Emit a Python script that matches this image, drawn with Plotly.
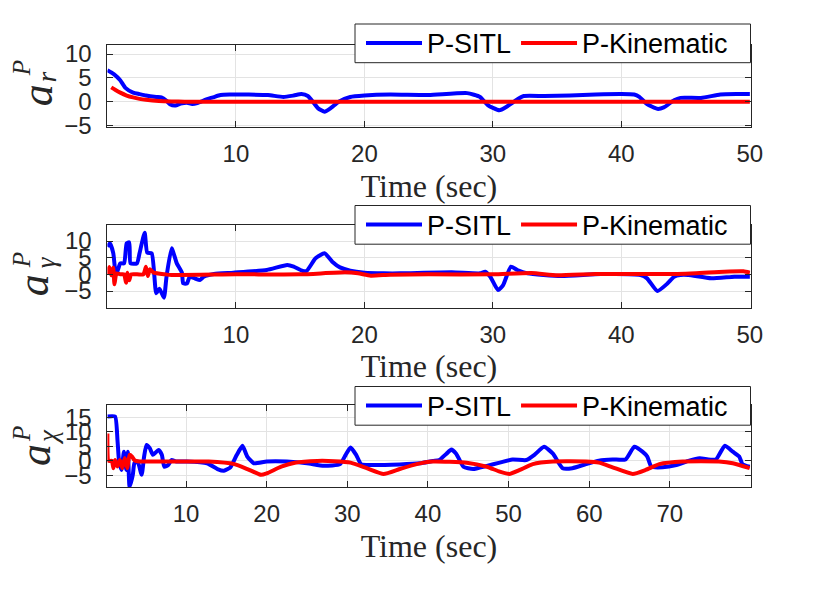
import plotly.graph_objects as go

# ---------------------------------------------------------------------------
# Data
# ---------------------------------------------------------------------------

# a_r^P
t_r_sitl = [0, 0.5, 1.0, 1.4, 2.0, 2.5, 3.0, 3.8, 4.2, 4.6, 4.9, 5.3, 5.7, 6.2, 6.6, 7.0, 7.7, 8.2,
            8.8, 9.5, 11, 12.5, 13.7, 14.5, 15.1, 15.6, 15.9, 16.4, 16.9, 17.4, 18.0, 18.9, 20, 22,
            25, 28, 29.0, 29.6, 30.5, 31.1, 31.8, 32.4, 34, 36, 38, 40, 41.0, 41.4, 42.0, 42.8, 43.3,
            44.1, 44.6, 46.2, 47.7, 49, 50]
ar_sitl = [6.6, 5.8, 4.5, 2.9, 1.9, 1.6, 1.3, 1.0, 0.9, 0.2, -0.6, -0.8, -0.4, -0.2, -0.5, -0.3, 0.5,
           0.9, 1.4, 1.5, 1.5, 1.4, 1.0, 1.3, 1.6, 1.2, 0.3, -1.4, -2.1, -1.3, 0.0, 1.0, 1.3, 1.5, 1.4,
           1.8, 1.0, -0.7, -1.8, -1.0, 0.3, 1.2, 1.2, 1.3, 1.5, 1.6, 1.5, 1.0, -0.5, -1.5, -1.2, 0.3,
           0.8, 0.8, 1.5, 1.6, 1.6]
t_r_kin = [0.3, 0.6, 1.0, 1.5, 2.0, 2.5, 3.0, 4.0, 5.0, 6, 10, 20, 30, 40, 50]
ar_kin = [3.0, 2.5, 1.9, 1.3, 0.9, 0.6, 0.4, 0.15, 0.05, 0, 0, 0, 0, 0, 0]

# a_gamma^P
t_g_sitl = [0, 0.2, 0.46, 0.6, 0.7, 1.0, 1.3, 1.5, 1.7, 1.8, 2.3, 2.5, 2.9, 3.1, 3.45, 3.8, 4.05,
            4.4, 4.6, 5.0, 5.4, 5.8, 5.9, 6.2, 6.4, 6.8, 7.2, 7.5, 8.3, 9.8, 12.4, 14.0, 14.5, 15.2,
            15.5, 16.2, 16.9, 17.5, 18.1, 18.9, 20, 21.5, 22.8, 26.8, 29.0, 29.4, 29.8, 30.4, 30.8,
            31.4, 31.9, 32.7, 35.3, 38.4, 41.5, 42.0, 42.8, 43.6, 44.1, 44.6, 45.2, 47.0, 48.8, 50]
ag_sitl = [8.3, 9.3, 6.3, 1.3, 0.0, 3.3, 3.3, 9.3, 9.6, 3.3, 3.3, 6.3, 12.5, 6.5, 6.3, -5.7, -4.3,
           -7.0, -0.7, 7.8, 3.3, 0.5, -2.7, -2.7, -0.7, -1.2, -1.7, -0.7, 0.1, 0.5, 1.3, 2.8, 2.3,
           1.0, 1.0, 4.8, 6.3, 3.8, 2.1, 1.1, 0.5, 0.3, 0.3, 0.6, 0.3, 0.8, -0.7, -4.7, -3.2, 2.3,
           1.3, 0.3, -0.5, 0.1, -0.2, -1.2, -5.0, -2.7, -0.7, -0.2, -0.2, -1.2, -0.7, -0.7]
t_g_kin = [0, 0.15, 0.3, 0.45, 0.55, 0.7, 1.0, 1.3, 1.45, 1.55, 1.7, 1.85, 2.8, 3.0, 3.15, 3.3, 3.6,
           4.5, 5.0, 10, 15, 18.5, 19.5, 20.5, 22, 25, 30, 33, 35, 38, 42, 45, 48, 49.5, 50]
ag_kin = [0, 2.2, -0.3, 2.0, -3.0, 0.3, 0, 0, -2.5, 0.5, -1.8, 0, 0, 2.3, -0.5, 1.5, 0.5, 0, -0.2,
          0, 0, 0.6, 0.3, -0.4, -0.1, 0, 0, 0.4, -0.3, 0.1, 0.1, 0.2, 0.8, 0.9, 0.5]

# a_chi^P
t_c_sitl = [0.25, 1.2, 1.5, 1.7, 2.0, 2.3, 2.6, 2.8, 3.0, 3.4, 3.6, 4.0, 4.5, 4.8, 5.1, 5.5, 5.9,
            6.6, 7.0, 7.3, 7.8, 8.2, 8.8, 10.1, 12.6, 13.9, 14.7, 15.5, 16.3, 17.0, 17.6, 18.4,
            20.0, 22.5, 25.0, 27.1, 29.1, 29.8, 30.4, 31.1, 31.7, 32.8, 36.5, 39.0, 40.6, 41.4,
            42.3, 42.9, 43.5, 44.4, 45.6, 47.3, 48.9, 50.5, 52.2, 53.2, 54.4, 55.5, 56.7, 57.9,
            59.6, 61.2, 62.9, 64.5, 65.6, 66.6, 67.2, 67.7, 69.1, 70.8, 72.4, 73.7, 75.7, 76.8,
            77.8, 78.6, 79.0, 79.9]
ac_sitl = [15.3, 15.3, 7.2, -0.2, -3.1, 3.2, -3.1, 3.2, -8.9, -4.8, -0.8, -0.2, -4.8, 1.5, 5.5,
           4.4, 2.1, 3.8, 2.1, -2.0, -1.4, 0.3, -0.2, -0.2, -0.8, -2.8, -3.4, -2.2, 2.1, 5.2, 1.5,
           -0.8, -0.2, -0.2, -0.8, -1.7, -1.1, 2.1, 4.6, 2.1, -1.1, -1.4, -1.2, -0.8, 0.0, 0.3,
           2.5, 3.9, 2.5, -2.0, -2.8, -1.7, -0.6, 0.5, 0.3, 2.1, 4.9, 2.5, -2.5, -2.5, -1.1, 0.1,
           0.5, 0.5, 4.9, 3.2, 1.5, -2.0, -2.2, -1.4, 0.1, 0.9, 0.5, 5.2, 3.2, 1.5, -1.1, -2.0]
t_c_kin = [0.25, 0.4, 0.8, 1.0, 1.2, 1.5, 1.8, 2.1, 2.4, 2.7, 3.0, 3.3, 3.6, 4.0, 5.0, 7.8, 12.8,
           16.0, 17.6, 19.3, 20.0, 21.8, 23.5, 26.3, 28.4, 30.4, 32.4, 34.5, 36.5, 38.6, 40.6,
           44.8, 47.3, 48.9, 50.1, 51.4, 53.0, 55.5, 59.6, 61.2, 62.9, 65.4, 67.0, 68.7, 71.6,
           76.1, 77.8, 79.9]
ac_kin = [9.5, 0.0, 0.0, -2.5, 0.3, -1.9, 0.3, -2.5, 1.0, -2.5, 2.1, 1.5, 0.3, -0.1, -0.2, -0.2,
          -0.2, -1.1, -2.8, -4.8, -4.3, -2.0, -0.6, 0.0, -0.1, -0.6, -2.5, -4.5, -2.8, -1.1, -0.2,
          -0.6, -2.0, -3.7, -4.5, -3.1, -1.1, -0.2, -0.2, -0.6, -2.2, -4.5, -3.1, -1.1, -0.2,
          -0.2, -0.8, -2.5]

x_ticks_short = [10, 20, 30, 40, 50]
x_ticks_long = [10, 20, 30, 40, 50, 60, 70]
y_ticks_r = [-5, 0, 5, 10]
y_ticks_g = [-5, 0, 5, 10]
y_ticks_c = [-5, 0, 5, 10, 15]

SERIES_NAMES = ["P-SITL", "P-Kinematic"]
Y_SUBSCRIPTS = ["r", "γ", "χ"]

# ---------------------------------------------------------------------------
# Figure
# ---------------------------------------------------------------------------

# the page body has an 8px margin; keep the figure small enough that the page
# never scrolls, and place everything in window pixels
BODY = 8
W, H = 810, 576
AX_COLOR = "#262626"
GRID_COLOR = "#e3e3e3"
SANS = "Liberation Sans, Arial, sans-serif"
SERIF = "Liberation Serif, Times New Roman, serif"
TICK_FONT = dict(family=SANS, size=24, color=AX_COLOR)

# window-pixel geometry of the three panels
PLOT_L, PLOT_R = 107.4, 750.5
PANELS_Y = [(45, 127.3), (225, 307.7), (405, 487)]
LEGEND_BOX_L = 355
LEGEND_TOP = [24, 205.5, 386.5]
LEGEND_H = 38.7
# y-label pieces: (x, dy from panel centre) for "a", "P" and the subscript
YLABEL_POS = [
    [(37, 9), (21, -18), (47, -9)],
    [(33, 19), (21, -6), (46, -4)],
    [(35, 9), (21, -12), (48, -9)],
]


def px_x(px):
    return (px - BODY) / W


def px_y(py):
    return 1 - (py - BODY) / H


panels = [
    (t_r_sitl, ar_sitl, t_r_kin, ar_kin, [0, 50.05], x_ticks_short, [-5.37, 11.9], y_ticks_r),
    (t_g_sitl, ag_sitl, t_g_kin, ag_kin, [0, 50.05], x_ticks_short, [-10, 14.8], y_ticks_g),
    (t_c_sitl, ac_sitl, t_c_kin, ac_kin, [0.25, 80], x_ticks_long, [-9, 19.3], y_ticks_c),
]

fig = go.Figure()
annotations = []
shapes = []

for i, (ts, vs, tk, vk, xr, xt, yr, yt) in enumerate(panels):
    n = "" if i == 0 else str(i + 1)
    legend_id = "legend" + n
    fig.add_trace(go.Scatter(
        x=ts, y=vs, mode="lines", name=SERIES_NAMES[0],
        line=dict(color="#0000ff", width=4, shape="spline", smoothing=0.5),
        xaxis="x" + n, yaxis="y" + n, legend=legend_id,
    ))
    fig.add_trace(go.Scatter(
        x=tk, y=vk, mode="lines", name=SERIES_NAMES[1],
        line=dict(color="#ff0000", width=4, shape="spline", smoothing=0.5),
        xaxis="x" + n, yaxis="y" + n, legend=legend_id,
    ))

    top, bottom = PANELS_Y[i]
    common = dict(
        showline=True, linecolor=AX_COLOR, linewidth=1, mirror="ticks",
        ticks="inside", ticklen=6, tickcolor=AX_COLOR,
        showgrid=True, gridcolor=GRID_COLOR, gridwidth=1, zeroline=False,
        tickfont=TICK_FONT, automargin=False,
    )
    leg_top = LEGEND_TOP[i]
    fig.update_layout({
        "xaxis" + n: dict(
            domain=[px_x(PLOT_L), px_x(PLOT_R)], anchor="y" + n, range=xr,
            tickvals=xt, ticklabelstandoff=5,
            title=dict(text="Time (sec)", standoff=8,
                       font=dict(family=SERIF, size=32, color=AX_COLOR)),
            **common,
        ),
        "yaxis" + n: dict(
            domain=[px_y(bottom), px_y(top)], anchor="x" + n, range=yr,
            tickvals=yt, ticklabelstandoff=10, **common,
        ),
        # legend entries sit on a white box drawn as a shape below
        legend_id: dict(
            x=px_x(733), xanchor="right", y=px_y(leg_top + LEGEND_H / 2), yanchor="middle",
            orientation="h", bgcolor="rgba(0,0,0,0)", borderwidth=0,
            font=dict(family=SANS, size=27, color="black"),
            itemwidth=56,
        ),
    })
    shapes.append(dict(
        type="rect", xref="paper", yref="paper", layer="above",
        x0=px_x(LEGEND_BOX_L), x1=px_x(PLOT_R), y0=px_y(leg_top + LEGEND_H), y1=px_y(leg_top),
        fillcolor="white", line=dict(color=AX_COLOR, width=1),
    ))

    # y label: a^P_sub, rotated
    yc = (top + bottom) / 2
    (ax, ady), (px_, pdy), (sx, sdy) = YLABEL_POS[i]
    annotations += [
        dict(text="<i>a</i>", x=px_x(ax), y=px_y(yc + ady), textangle=-90,
             font=dict(family=SERIF, size=44, color=AX_COLOR)),
        dict(text="<i>P</i>", x=px_x(px_), y=px_y(yc + pdy), textangle=-90,
             font=dict(family=SERIF, size=25, color=AX_COLOR)),
        dict(text="<i>" + Y_SUBSCRIPTS[i] + "</i>", x=px_x(sx), y=px_y(yc + sdy), textangle=-90,
             font=dict(family=SERIF, size=27, color=AX_COLOR)),
    ]

for a in annotations:
    a.update(xref="paper", yref="paper", xanchor="center", yanchor="middle", showarrow=False)

fig.update_layout(
    template="none",
    width=W, height=H,
    margin=dict(l=0, r=0, t=0, b=0, pad=0),
    paper_bgcolor="white", plot_bgcolor="white",
    annotations=annotations,
    shapes=shapes,
)

fig.write_html("out.html")
